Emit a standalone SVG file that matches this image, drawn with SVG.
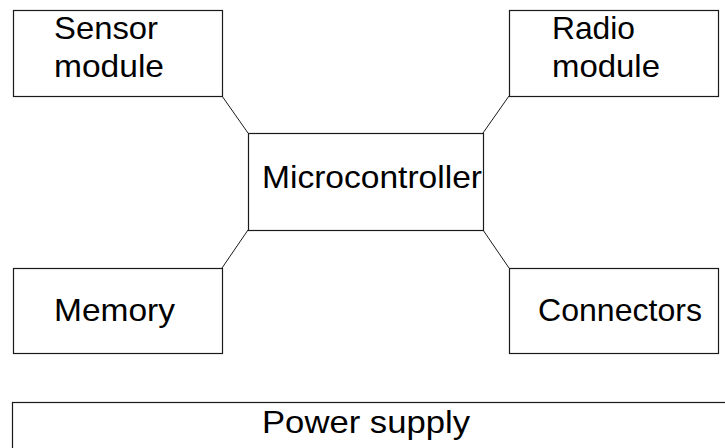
<svg xmlns="http://www.w3.org/2000/svg" width="725" height="448" viewBox="0 0 725 448">
  <style>
    .box { fill: #ffffff; stroke: #1a1a1a; stroke-width: 1.2; }
    .link { fill: none; stroke: #1a1a1a; stroke-width: 1; }
    .label { font-family: "Liberation Sans", Arial, sans-serif; font-size: 32px; fill: #000000; }
  </style>
  <rect x="0" y="0" width="725" height="448" fill="#ffffff"/>

  <!-- connectors between the microcontroller and the peripheral blocks -->
  <g id="connectors">
    <line class="link" x1="222" y1="96" x2="248" y2="133"/>
    <line class="link" x1="509" y1="96" x2="483" y2="133"/>
    <line class="link" x1="222" y1="268" x2="248" y2="230"/>
    <line class="link" x1="509" y1="268" x2="483" y2="230"/>
  </g>

  <g id="sensor-module">
    <rect class="box" x="13.5" y="10.5" width="209" height="86"/>
    <text class="label" x="54" y="39" textLength="104" lengthAdjust="spacingAndGlyphs">Sensor</text>
    <text class="label" x="54" y="77" textLength="110" lengthAdjust="spacingAndGlyphs">module</text>
  </g>

  <g id="radio-module">
    <rect class="box" x="509.5" y="10.5" width="209" height="86"/>
    <text class="label" x="552" y="39" textLength="83" lengthAdjust="spacingAndGlyphs">Radio</text>
    <text class="label" x="552" y="77" textLength="108" lengthAdjust="spacingAndGlyphs">module</text>
  </g>

  <g id="microcontroller">
    <rect class="box" x="248.5" y="133.5" width="235" height="97"/>
    <text class="label" x="262" y="188" textLength="220" lengthAdjust="spacingAndGlyphs">Microcontroller</text>
  </g>

  <g id="memory">
    <rect class="box" x="13.5" y="268.5" width="209" height="85"/>
    <text class="label" x="54" y="321" textLength="121" lengthAdjust="spacingAndGlyphs">Memory</text>
  </g>

  <g id="connectors-block">
    <rect class="box" x="509.5" y="268.5" width="209" height="85"/>
    <text class="label" x="538" y="321" textLength="164" lengthAdjust="spacingAndGlyphs">Connectors</text>
  </g>

  <g id="power-supply">
    <rect class="box" x="12.5" y="402.5" width="730" height="60"/>
    <text class="label" x="262" y="433" textLength="208" lengthAdjust="spacingAndGlyphs">Power supply</text>
  </g>
</svg>
